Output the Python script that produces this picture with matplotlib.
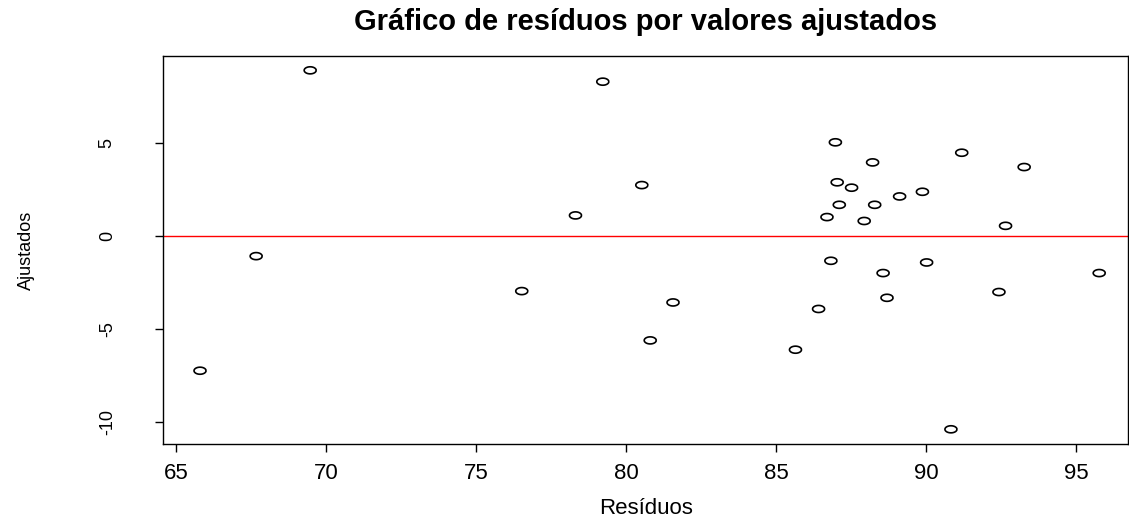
import numpy as np
import matplotlib.pyplot as plt
from matplotlib.path import Path

# valores ajustados (eixo x) e residuos (eixo y)
ajustados = [65.8, 67.67, 69.47, 79.22, 80.52, 78.31, 76.52, 80.8,
             86.97, 88.21, 91.18, 93.26, 87.03, 87.51, 89.11, 89.87,
             87.1, 88.28, 86.69, 87.93, 92.64, 86.82, 88.56, 90.01,
             95.76, 92.42, 88.69, 81.56, 86.41, 85.64, 90.82]
residuos = [-7.24, -1.08, 8.91, 8.30, 2.74, 1.11, -2.96, -5.61,
            5.04, 3.96, 4.48, 3.71, 2.89, 2.60, 2.13, 2.38,
            1.68, 1.68, 1.02, 0.81, 0.55, -1.33, -1.99, -1.42,
            -1.99, -3.01, -3.32, -3.57, -3.92, -6.11, -10.39]

xticks = [65, 70, 75, 80, 85, 90, 95]
yticks = [-10, -5, 0, 5]

plt.rcParams['font.family'] = ['Liberation Sans', 'DejaVu Sans']

# marcador eliptico (imagem original esticada na horizontal)
t = np.linspace(0, 2*np.pi, 40)
elipse = Path(np.column_stack([np.cos(t)*1.7, np.sin(t)]))

fig = plt.figure(figsize=(11.29, 5.21), dpi=100)
ax = fig.add_axes([0.1444, 0.1478, 0.855, 0.7447])

ax.scatter(ajustados, residuos, marker=elipse, s=75, facecolors='none',
           edgecolors='black', linewidths=1.2)
ax.axhline(0, color='red', linewidth=1)

ax.set_xlim(64.567, 96.73)
ax.set_ylim(-11.18, 9.68)
ax.set_xticks(xticks)
ax.set_yticks(yticks)
ax.set_yticklabels([str(v) for v in yticks], rotation=90, va='center')
ax.tick_params(direction='out', length=6, width=1)
ax.tick_params(axis='x', labelsize=16, pad=8)
ax.tick_params(axis='y', labelsize=13, pad=28)
for s in ax.spines.values():
    s.set_linewidth(1)

ax.set_title('Gráfico de resíduos por valores ajustados', fontsize=21,
             fontweight='bold', pad=19)
ax.set_xlabel('Resíduos', fontsize=16, labelpad=10)
ax.set_ylabel('Ajustados', fontsize=13, labelpad=46)

fig.savefig('out.png', dpi=100)
